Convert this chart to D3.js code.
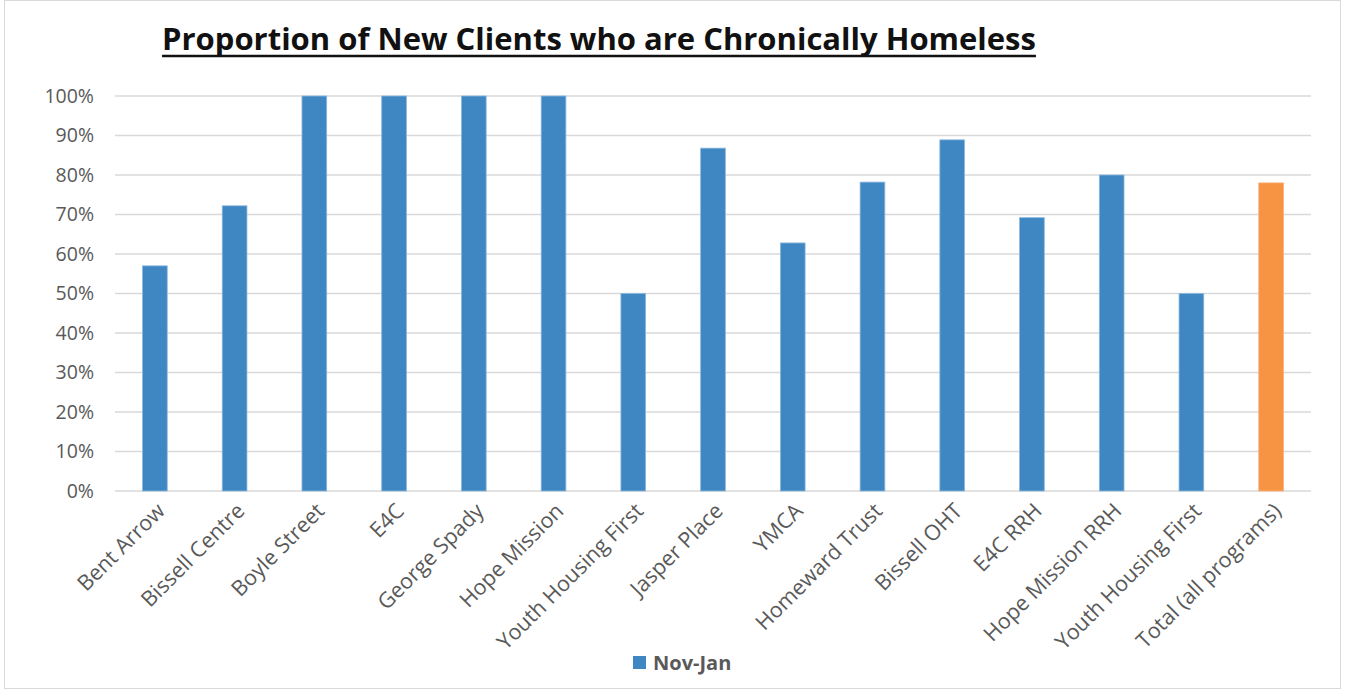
<!DOCTYPE html>
<html>
<head>
<meta charset="utf-8">
<script src="https://cdn.jsdelivr.net/npm/d3@7"></script>
<style>
  body { margin: 0; background: #fff; }
  svg { display: block; font-family: "Open Sans", "Liberation Sans", sans-serif; }
</style>
</head>
<body>
<svg width="1345" height="691"></svg>
<script>
var programs = ["Bent Arrow", "Bissell Centre", "Boyle Street", "E4C", "George Spady", "Hope Mission",
  "Youth Housing First", "Jasper Place", "YMCA", "Homeward Trust", "Bissell OHT", "E4C RRH",
  "Hope Mission RRH", "Youth Housing First", "Total (all programs)"];
var novJan = [0.57, 0.722, 1, 1, 1, 1, 0.5, 0.868, 0.628, 0.782, 0.889, 0.692, 0.8, 0.5, 0.78];
var yTicks = [0, 0.1, 0.2, 0.3, 0.4, 0.5, 0.6, 0.7, 0.8, 0.9, 1];

var svg = d3.select("svg");

// outer frame
svg.append("rect").attr("x", 4.5).attr("y", 0.5).attr("width", 1336).attr("height", 688)
  .attr("fill", "#fff").attr("stroke", "#d9d9d9");

var plotLeft = 115, plotRight = 1311, plotTop = 96, plotBottom = 491;

// use index as key since one name repeats
var x = d3.scaleBand().domain(d3.range(programs.length)).range([plotLeft, plotRight]).paddingInner(0.69).paddingOuter(0.345);
var y = d3.scaleLinear().domain([0, 1]).range([plotBottom, plotTop]);

// gridlines
svg.append("g").selectAll("line").data(yTicks).join("line")
  .attr("x1", plotLeft).attr("x2", plotRight)
  .attr("y1", d => y(d)).attr("y2", d => y(d))
  .attr("stroke", "#d9d9d9").attr("stroke-width", 1.5);

// y axis labels
var yAxis = d3.axisLeft(y).tickValues(yTicks).tickFormat(d3.format(".0%")).tickSize(0).tickPadding(21);
var gy = svg.append("g").attr("transform", "translate(" + plotLeft + ",0)").call(yAxis);
gy.select(".domain").remove();
gy.selectAll("text").attr("fill", "#595959").style("font-size", "19.5px").style("font-family", "Open Sans, sans-serif");

// bars
svg.append("g").selectAll("rect").data(novJan).join("rect")
  .attr("x", (d, i) => x(i))
  .attr("y", d => y(d))
  .attr("width", x.bandwidth())
  .attr("height", d => y(0) - y(d))
  .attr("fill", (d, i) => i == programs.length - 1 ? "#f79443" : "#3f87c2")
  .attr("stroke", (d, i) => i == programs.length - 1 ? "#f9b07a" : "#8cb8dd")
  .attr("stroke-width", 0.8);

// x axis labels, rotated
var xAxis = d3.axisBottom(x).tickFormat(i => programs[i]).tickSize(0).tickPadding(0);
var gx = svg.append("g").attr("transform", "translate(0," + plotBottom + ")").call(xAxis);
gx.select(".domain").remove();
gx.selectAll("text")
  .attr("fill", "#595959")
  .style("font-size", "21.5px")
  .style("font-family", "Open Sans, sans-serif")
  .attr("text-anchor", "end")
  .attr("dy", "0.35em")
  .attr("transform", "translate(6,16) rotate(-45)");

// title
var title = svg.append("text").attr("x", 599).attr("y", 50)
  .attr("text-anchor", "middle")
  .attr("fill", "#111")
  .style("font-size", "31px").style("font-weight", "bold")
  .style("font-family", "Open Sans, sans-serif")
  .text("Proportion of New Clients who are Chronically Homeless");
var bb = title.node().getBBox();
svg.append("line").attr("x1", bb.x).attr("x2", bb.x + bb.width)
  .attr("y1", 56).attr("y2", 56).attr("stroke", "#111").attr("stroke-width", 2.5);

// legend
svg.append("rect").attr("x", 633).attr("y", 656).attr("width", 13).attr("height", 13).attr("fill", "#3f87c2");
svg.append("text").attr("x", 653).attr("y", 670)
  .attr("fill", "#595959").style("font-size", "20px").style("font-weight", "bold")
  .text("Nov-Jan");
</script>
</body>
</html>
